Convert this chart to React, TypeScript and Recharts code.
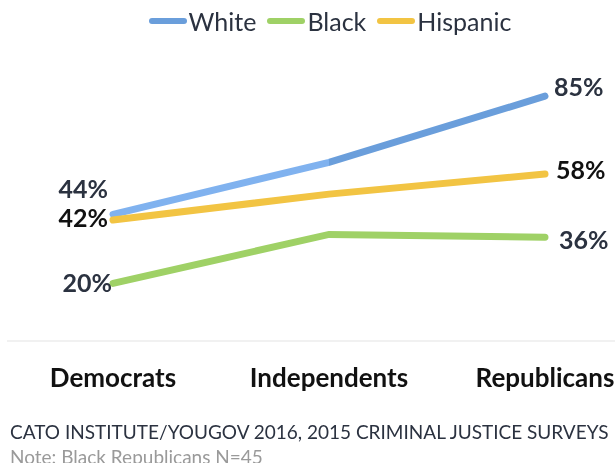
import React from 'react';
import { LineChart, Line, XAxis, YAxis, Legend, LabelList } from 'recharts';

const parties = ['Democrats', 'Independents', 'Republicans'];
const whiteValues = [44, 62, 85];
const blackValues = [20, 37, 36];
const hispanicValues = [42, 51, 58];

const data = parties.map((party, i) => ({
  party,
  White: whiteValues[i],
  Black: blackValues[i],
  Hispanic: hispanicValues[i],
}));

const FONT = 'Lato, "Open Sans", sans-serif';
const TEXT = '#2b3240';
const W = 615;

// per-series look + where the end labels sit
const series = [
  { key: 'White', color: '#6a9edb', stroke: 'url(#whiteStroke)', labelColor: TEXT, left: [-5, -25], right: [9, -9] },
  { key: 'Black', color: '#9fd166', stroke: '#9fd166', labelColor: TEXT, left: [-1, 0], right: [14, 3] },
  { key: 'Hispanic', color: '#f2c443', stroke: '#f2c443', labelColor: '#111', left: [-5, -2], right: [11, -4] },
];

function endLabel(s: typeof series[number]) {
  return (props: any) => {
    const { x, y, value, index } = props;
    if (index !== 0 && index !== parties.length - 1) return null;
    const [dx, dy] = index === 0 ? s.left : s.right;
    return (
      <text
        x={x + dx}
        y={y + dy}
        dy="0.36em"
        textAnchor={index === 0 ? 'end' : 'start'}
        fontFamily={FONT}
        fontWeight={700}
        fontSize={25}
        fill={s.labelColor}
      >
        {value}%
      </text>
    );
  };
}

function PartyTick({ x, y, payload }: any) {
  return (
    <text x={x} y={y + 44} textAnchor="middle" fontFamily={FONT} fontWeight={700} fontSize={26} fill="#111">
      {payload.value}
    </text>
  );
}

function LegendContent() {
  return (
    <div style={{ display: 'flex', justifyContent: 'center', paddingLeft: 56, height: 30, alignItems: 'center', marginTop: -2 }}>
      {series.map(s => (
        <div key={s.key} style={{ display: 'flex', alignItems: 'center', marginRight: 11 }}>
          <span style={{ width: 38, height: 6, borderRadius: 3, background: s.color, marginRight: 2 }} />
          <span style={{ fontFamily: FONT, fontSize: 25, lineHeight: '28px', color: TEXT }}>{s.key}</span>
        </div>
      ))}
    </div>
  );
}

export default function App() {
  // fixed so nothing spills into page scroll and all 615px stay visible
  return (
    <div style={{ position: 'fixed', top: 8, left: 0, width: W, height: 455 }}>
      <LineChart width={W} height={400} data={data} margin={{ top: 45, right: 0, bottom: 0, left: 7 }}>
        <defs>
          <linearGradient id="whiteStroke" x1="0" y1="0" x2="1" y2="0">
            <stop offset="0.5" stopColor="#80b2ef" />
            <stop offset="0.5" stopColor="#6a9edb" />
          </linearGradient>
        </defs>
        <XAxis
          dataKey="party"
          height={67}
          padding={{ left: 106, right: 70 }}
          axisLine={{ stroke: '#ececec', strokeWidth: 1.5 }}
          tickLine={false}
          tickSize={0}
          interval={0}
          tick={<PartyTick />}
        />
        <YAxis hide domain={[0, 100]} />
        <Legend
          verticalAlign="middle"
          align="center"
          content={<LegendContent />}
          wrapperStyle={{ top: 0, left: 0, width: W }}
        />
        {series.map(s => (
          <Line
            key={s.key}
            dataKey={s.key}
            stroke={s.stroke}
            strokeWidth={7}
            strokeLinecap="round"
            dot={false}
            activeDot={false}
            isAnimationActive={false}
          >
            <LabelList dataKey={s.key} content={endLabel(s)} />
          </Line>
        ))}
      </LineChart>
      <div style={{ fontFamily: FONT, fontSize: 19, lineHeight: '25px', marginTop: 11, paddingLeft: 10, whiteSpace: 'nowrap' }}>
        <div style={{ color: TEXT }}>CATO INSTITUTE/YOUGOV 2016, 2015 CRIMINAL JUSTICE SURVEYS</div>
        <div style={{ color: '#9a9a9a' }}>Note: Black Republicans N=45</div>
      </div>
    </div>
  );
}
